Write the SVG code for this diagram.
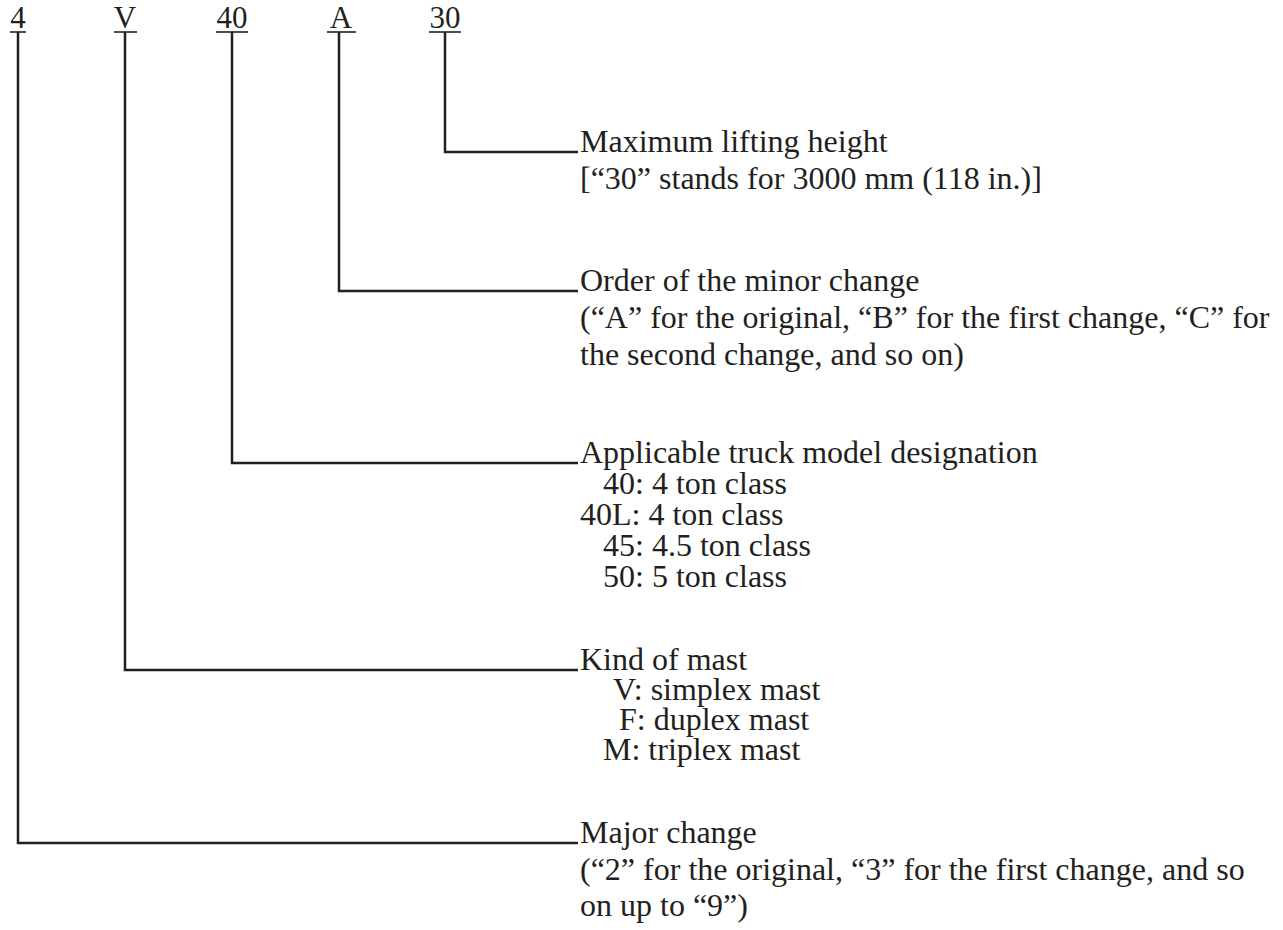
<svg xmlns="http://www.w3.org/2000/svg" width="1283" height="930" viewBox="0 0 1283 930">
<style>
text{font-family:"Liberation Serif","Times New Roman",serif;font-size:32px;fill:#231f20}
.top{text-anchor:middle;font-size:31px}
.ul{stroke:#231f20;stroke-width:1.6;fill:none}
.con{stroke:#231f20;stroke-width:2.5;fill:none}
</style>
<rect width="1283" height="930" fill="#fff"/>
<g id="codes">
<g id="c4"><text class="top" x="18" y="28">4</text><line class="ul" x1="10" y1="32" x2="26" y2="32"/></g>
<g id="cV"><text class="top" x="125" y="28">V</text><line class="ul" x1="114" y1="32" x2="137" y2="32"/></g>
<g id="c40"><text class="top" x="232" y="28">40</text><line class="ul" x1="216" y1="32" x2="248" y2="32"/></g>
<g id="cA"><text class="top" x="341" y="28">A</text><line class="ul" x1="327" y1="32" x2="356" y2="32"/></g>
<g id="c30"><text class="top" x="445" y="28">30</text><line class="ul" x1="429" y1="32" x2="461" y2="32"/></g>
</g>
<g id="connectors">
<polyline class="con" points="445,32 445,152 578,152"/>
<polyline class="con" points="339,32 339,291 578,291"/>
<polyline class="con" points="232,32 232,463 578,463"/>
<polyline class="con" points="125,32 125,670 578,670"/>
<polyline class="con" points="18,32 18,843 578,843"/>
</g>
<g id="n30">
<text x="580" y="152">Maximum lifting height</text>
<text x="580" y="189">[“30” stands for 3000 mm (118 in.)]</text>
</g>
<g id="nA">
<text x="580" y="291">Order of the minor change</text>
<text x="580" y="328">(“A” for the original, “B” for the first change, “C” for</text>
<text x="580" y="365">the second change, and so on)</text>
</g>
<g id="n40">
<text x="580" y="463">Applicable truck model designation</text>
<text x="603" y="494">40: 4 ton class</text>
<text x="580" y="525">40L: 4 ton class</text>
<text x="603" y="556">45: 4.5 ton class</text>
<text x="603" y="587">50: 5 ton class</text>
</g>
<g id="nV">
<text x="580" y="670">Kind of mast</text>
<text x="613" y="700">V: simplex mast</text>
<text x="619" y="730">F: duplex mast</text>
<text x="603" y="760">M: triplex mast</text>
</g>
<g id="n4">
<text x="580" y="843">Major change</text>
<text x="580" y="880">(“2” for the original, “3” for the first change, and so</text>
<text x="580" y="916">on up to “9”)</text>
</g>
</svg>
